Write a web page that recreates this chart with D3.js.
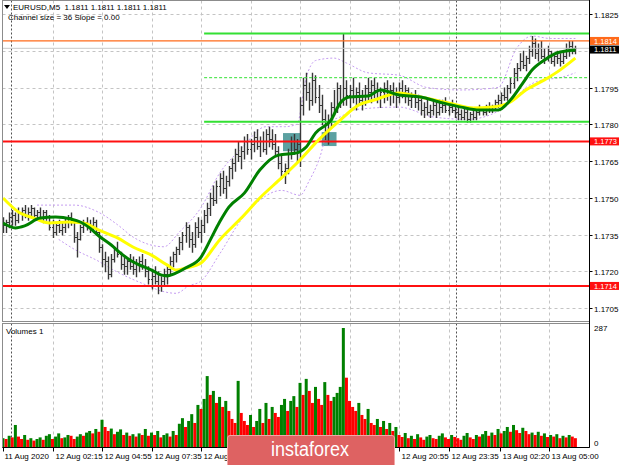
<!DOCTYPE html>
<html><head><meta charset="utf-8">
<script src="https://cdn.jsdelivr.net/npm/d3@7"></script>
<style>body{margin:0;background:#fff}svg{display:block}text{font-family:"Liberation Sans",Arial,sans-serif}</style>
</head><body><svg id="c" width="620" height="465"></svg>
<script>
// ---- data (10-minute bars, EURUSD) ----
const highs=[1.1742,1.1741,1.1744,1.1745,1.1744,1.1746,1.1746,1.1747,1.1746,1.1747,1.1746,1.1745,1.1746,1.1745,1.1745,
1.1743,1.1741,1.1740,1.1741,1.1740,1.1742,1.1743,1.1744,1.1741,1.1736,1.1739,1.1741,1.1742,1.1741,1.1742,1.1741,
1.1736,1.1731,1.1728,1.1726,1.1727,1.1730,1.1732,1.1728,1.1726,1.1725,1.1727,1.1726,1.1725,1.1726,1.1727,1.1725,
1.1722,1.1721,1.1722,1.1720,1.1718,1.1721,1.1723,1.1726,1.1728,1.1730,1.1734,1.1736,1.1740,1.1739,1.1736,1.1740,1.1742,1.1741,
1.1745,1.1748,1.1752,1.1755,1.1757,1.1760,1.1761,1.1759,1.1763,1.1766,1.1770,1.1773,1.1771,1.1775,
1.1776,1.1774,1.1777,1.1778,1.1775,1.1777,1.1778,1.1779,1.1778,1.1776,1.1771,1.1767,1.1764,1.1770,1.1775,1.1776,1.1774,
1.1791,1.1799,1.1801,1.1797,1.1801,1.1800,1.1796,1.1792,1.1786,1.1784,1.1789,1.1794,1.1797,1.1796,1.1817,
1.1798,1.1796,1.1799,1.1795,1.1797,1.1794,1.1796,1.1799,1.1798,1.1799,1.1797,1.1795,1.1797,1.1798,1.1796,1.1797,1.1795,
1.1797,1.1798,1.1796,1.1795,1.1793,1.1794,1.1792,1.1791,1.1789,1.1790,1.1788,1.1790,1.1789,1.1790,
1.1790,1.1791,1.1789,1.1790,1.1788,1.1787,1.1786,1.1787,1.1786,1.1785,1.1787,1.1786,1.1788,1.1787,1.1788,1.1789,1.1788,1.1790,1.1792,
1.1793,1.1795,1.1796,1.1799,1.1803,1.1805,1.1809,1.1810,1.1808,1.1812,1.1816,1.1815,1.1813,1.1814,1.1811,1.1812,1.1810,1.1809,1.1810,1.1809,1.1810,1.1813,1.1814,1.1814,1.1812];
const lows=[1.1736,1.1736,1.1738,1.1739,1.1739,1.1740,1.1741,1.1742,1.1741,1.1742,1.1742,1.1741,1.1741,1.1740,1.1741,
1.1737,1.1734,1.1735,1.1736,1.1735,1.1736,1.1738,1.1739,1.1732,1.1726,1.1733,1.1736,1.1737,1.1736,1.1737,1.1735,
1.1728,1.1722,1.1720,1.1717,1.1718,1.1724,1.1726,1.1721,1.1719,1.1719,1.1721,1.1719,1.1718,1.1720,1.1721,1.1718,
1.1715,1.1713,1.1715,1.1711,1.1712,1.1714,1.1715,1.1719,1.1722,1.1724,1.1727,1.1729,1.1732,1.1730,1.1728,1.1730,1.1734,1.1732,
1.1736,1.1740,1.1743,1.1747,1.1748,1.1751,1.1752,1.1750,1.1755,1.1758,1.1761,1.1765,1.1762,1.1766,
1.1768,1.1766,1.1769,1.1770,1.1767,1.1769,1.1768,1.1771,1.1770,1.1767,1.1762,1.1758,1.1756,1.1760,1.1766,1.1768,1.1765,
1.1763,1.1784,1.1790,1.1786,1.1788,1.1789,1.1785,1.1780,1.1774,1.1772,1.1779,1.1784,1.1785,1.1787,1.1788,
1.1788,1.1787,1.1789,1.1786,1.1788,1.1786,1.1788,1.1790,1.1789,1.1791,1.1789,1.1787,1.1789,1.1790,1.1788,1.1789,1.1787,
1.1789,1.1791,1.1789,1.1788,1.1787,1.1787,1.1786,1.1784,1.1783,1.1784,1.1783,1.1784,1.1783,1.1784,
1.1785,1.1785,1.1784,1.1785,1.1783,1.1782,1.1782,1.1782,1.1781,1.1781,1.1782,1.1782,1.1784,1.1784,1.1784,1.1785,1.1785,1.1786,1.1787,
1.1788,1.1790,1.1790,1.1793,1.1795,1.1798,1.1802,1.1803,1.1802,1.1805,1.1808,1.1807,1.1806,1.1807,1.1805,1.1806,1.1805,1.1804,1.1805,1.1804,1.1805,1.1807,1.1808,1.1809,1.1809];
const closes=[1.1739,1.1740,1.1742,1.1743,1.1741,1.1744,1.1745,1.1743,1.1744,1.1746,1.1743,1.1744,1.1742,1.1744,1.1742,
1.1738,1.1736,1.1739,1.1737,1.1738,1.1740,1.1742,1.1740,1.1734,1.1733,1.1738,1.1740,1.1738,1.1739,1.1740,1.1736,
1.1730,1.1725,1.1724,1.1719,1.1725,1.1729,1.1727,1.1723,1.1722,1.1724,1.1722,1.1721,1.1723,1.1724,1.1722,1.1720,
1.1717,1.1718,1.1716,1.1714,1.1716,1.1719,1.1721,1.1724,1.1727,1.1729,1.1732,1.1735,1.1738,1.1733,1.1731,1.1738,1.1736,1.1739,
1.1743,1.1746,1.1750,1.1749,1.1755,1.1758,1.1754,1.1757,1.1762,1.1764,1.1768,1.1767,1.1769,1.1773,
1.1770,1.1772,1.1775,1.1771,1.1773,1.1770,1.1776,1.1774,1.1772,1.1769,1.1764,1.1761,1.1762,1.1768,1.1773,1.1770,1.1772,
1.1788,1.1796,1.1793,1.1790,1.1798,1.1791,1.1788,1.1782,1.1777,1.1781,1.1787,1.1786,1.1795,1.1790,1.1795,
1.1792,1.1794,1.1791,1.1793,1.1790,1.1792,1.1795,1.1793,1.1796,1.1794,1.1791,1.1793,1.1795,1.1792,1.1794,1.1793,1.1791,
1.1795,1.1793,1.1794,1.1790,1.1791,1.1789,1.1790,1.1786,1.1787,1.1785,1.1786,1.1788,1.1785,1.1787,
1.1788,1.1786,1.1787,1.1786,1.1785,1.1784,1.1783,1.1785,1.1782,1.1784,1.1783,1.1785,1.1786,1.1785,1.1787,1.1786,1.1787,1.1789,1.1790,
1.1792,1.1791,1.1795,1.1797,1.1801,1.1803,1.1806,1.1804,1.1807,1.1810,1.1813,1.1809,1.1811,1.1808,1.1807,1.1810,1.1806,1.1808,1.1807,1.1806,1.1808,1.1811,1.1812,1.1810,1.1811];
const volumes=[12,10,18,14,45,16,10,20,8,12,6,10,14,8,18,22,10,16,24,12,14,20,18,10,16,
22,18,26,30,24,35,28,58,40,30,36,22,28,34,20,26,
18,22,16,24,20,35,18,26,20,30,14,20,24,16,30,20,
48,62,40,55,72,50,95,85,110,167,120,130,100,115,90,105,80,
60,50,155,75,55,
45,70,40,55,85,50,100,60,90,75,65,
95,110,80,105,117,90,150,
120,160,130,100,140,
110,95,152,120,105,115,125,140,
287,
163,105,90,80,100,70,60,85,50,45,60,40,55,35,50,30,40,
20,15,25,12,18,10,22,14,8,16,20,12,10,18,24,14,10,20,15,12,8,18,25,14,10,20,16,22,30,18,
26,20,35,24,30,40,28,45,32,25,38,30,22,26,20,28,18,24,15,20,16,22,12,18,14,20,16,12];
const fastMA=[[0,1.17397],[4,1.17377],[7,1.17385],[12,1.17417],[17,1.17421],[22,1.17413],[25,1.17401],[28,1.17377],[31,1.17344],[35,1.17307],[38,1.17274],[41,1.17246],[44,1.17226],[48,1.17205],[51,1.17185],[53,1.17181],[56,1.17193],[59,1.17213],[64,1.17258],[67,1.17328],[70,1.17401],[73,1.17462],[78,1.17519],[83,1.17613],[89,1.17674],[95,1.17683],[98,1.17707],[101,1.17764],[106,1.17817],[109,1.17887],[112,1.17911],[118,1.17915],[122,1.17940],[128,1.17919],[135,1.17911],[141,1.17891],[148,1.17870],[154,1.17858],[160,1.17858],[164,1.17899],[168,1.17968],[171,1.18021],[175,1.18062],[179,1.18091],[185,1.18103]];
const slowMA=[[0,1.17499],[5,1.17442],[10,1.17417],[15,1.17397],[21,1.17401],[26,1.17397],[31,1.17368],[37,1.17336],[42,1.17299],[48,1.17266],[53,1.17226],[56,1.17205],[59,1.17213],[64,1.17234],[70,1.17328],[77,1.17417],[83,1.17499],[90,1.17581],[96,1.17654],[102,1.17736],[109,1.17817],[115,1.17879],[120,1.17899],[128,1.17928],[135,1.17911],[144,1.17887],[152,1.17866],[158,1.17870],[164,1.17891],[169,1.17940],[175,1.17981],[180,1.18021],[185,1.18070]];
const upperBand=[[11,1.1747],[23,1.1747],[31,1.1744],[37,1.1739],[42,1.1734],[47,1.1731],[52,1.1730],[57,1.1736],[64,1.1746],[70,1.1760],[77,1.1770],[85,1.1779],[91,1.1779],[95,1.1780],[98,1.1799],[101,1.1806],[107,1.1807],[111,1.1805],[118,1.1801],[128,1.1800],[137,1.1795],[148,1.1794],[160,1.1795],[166,1.1811],[171,1.1816],[177,1.1815],[185,1.1815]];
const lowerBand=[[18,1.1733],[23,1.1729],[31,1.1724],[35,1.1721],[47,1.1714],[51,1.1712],[56,1.1711],[60,1.1714],[64,1.1716],[70,1.1727],[77,1.1741],[83,1.1749],[90,1.1753],[96,1.1751],[99,1.1757],[102,1.1765],[106,1.1781],[109,1.1783],[114,1.1786],[128,1.1787],[139,1.1783],[150,1.1782],[161,1.1786],[165,1.1790],[169,1.1795],[174,1.1798],[180,1.1799],[185,1.1801]];
const priceTicks=[1.1825,1.1810,1.1795,1.1780,1.1765,1.1750,1.1735,1.1720,1.1705];
const timeTickIdx=[0,16,32,48,64,80,96,112,128,144,160.5,176.5];
// labels under the instaforex badge are covered in the source and left blank
const timeTickLabels=["11 Aug 2020","12 Aug 02:15","12 Aug 04:55","12 Aug 07:35","12 Aug 10:15","","","","12 Aug 20:55","12 Aug 23:35","13 Aug 02:20","13 Aug 05:00"];
const daySeparators=[2.5,146.5];
const fullLevels=[{p:1.1814,c:"#ff6a1a",w:1.3},{p:1.1811,c:"#c8c8c8",w:1},{p:1.1773,c:"#ff1010",w:2},{p:1.1714,c:"#ff1010",w:2}];
const partLevels=[{p:1.1817,from:65,c:"#33e033",w:2,dash:null},{p:1.1799,from:65,c:"#33e033",w:1,dash:"3,2"},{p:1.1781,from:65,c:"#33e033",w:2,dash:null}];
const zones=[{x0:90.5,x1:96.2,p0:1.17764,p1:1.17690},{x0:103,x1:107.8,p0:1.17768,p1:1.17711}];
const priceTags=[{p:1.1814,t:"1.1814",bg:"#ff6a1a"},{p:1.1811,t:"1.1811",bg:"#000000"},{p:1.1773,t:"1.1773",bg:"#ff1010"},{p:1.1714,t:"1.1714",bg:"#ff1010"}];
const headerText="EURUSD,M5  1.1811 1.1811 1.1811 1.1811";
const subText="Channel size = 36 Slope = 0.00";

// ---- layout ----
const L=2.5,R=589.5,mainTop=0.5,mainBot=321.5,volTop=323.5,volBot=447.5;
const svg=d3.select("#c");
const x=d3.scaleLinear().domain([0,190]).range([3,3+190*3.094]);
const y=d3.scaleLinear().domain([1.1705,1.1825]).range([308,14]);
const yv=d3.scaleLinear().domain([0,287]).range([443,328]);

const defs=svg.append("defs");
defs.append("clipPath").attr("id","mc").append("rect").attr("x",L).attr("y",mainTop).attr("width",R-L).attr("height",mainBot-mainTop);
defs.append("clipPath").attr("id","vc").append("rect").attr("x",L).attr("y",volTop).attr("width",R-L).attr("height",volBot-volTop);

const g=svg.append("g").attr("clip-path","url(#mc)");
const gv=svg.append("g").attr("clip-path","url(#vc)");

// grid
priceTicks.forEach(p=>{g.append("line").attr("x1",L).attr("x2",R).attr("y1",Math.round(y(p))+0.5).attr("y2",Math.round(y(p))+0.5).attr("stroke","#c4c4c4").attr("stroke-dasharray","3,3");});
timeTickIdx.slice(1).forEach(t=>{
  const xx=Math.round(x(t))+0.5;
  g.append("line").attr("x1",xx).attr("x2",xx).attr("y1",mainTop).attr("y2",mainBot).attr("stroke","#c4c4c4").attr("stroke-dasharray","3,3");
  gv.append("line").attr("x1",xx).attr("x2",xx).attr("y1",volTop).attr("y2",volBot).attr("stroke","#c4c4c4").attr("stroke-dasharray","3,3");
});
daySeparators.forEach(t=>{
  const xx=Math.round(x(t))+0.5;
  g.append("line").attr("x1",xx).attr("x2",xx).attr("y1",mainTop).attr("y2",mainBot).attr("stroke","#505050").attr("stroke-dasharray","2,2");
  gv.append("line").attr("x1",xx).attr("x2",xx).attr("y1",volTop).attr("y2",volBot).attr("stroke","#505050").attr("stroke-dasharray","2,2");
});

// zones
zones.forEach(z=>{g.append("rect").attr("x",x(z.x0)).attr("width",x(z.x1)-x(z.x0)).attr("y",y(z.p0)).attr("height",y(z.p1)-y(z.p0)).attr("fill","#3f9090").attr("opacity",0.85);});

// bands
const lineGen=d3.line().x(d=>x(d[0])).y(d=>y(d[1])).curve(d3.curveMonotoneX);
[upperBand,lowerBand].forEach(b=>g.append("path").attr("d",lineGen(b)).attr("fill","none").attr("stroke","#c49cf0").attr("stroke-width",1).attr("stroke-dasharray","2,2"));

// bars
const bars=g.append("g").attr("stroke","#383838");
highs.forEach((h,i)=>{
  const xx=Math.round(x(i))+0.5;
  const o=i>0?closes[i-1]:closes[i];
  bars.append("line").attr("x1",xx).attr("x2",xx).attr("y1",y(h)).attr("y2",y(lows[i])+1).attr("stroke-width",1.4);
  bars.append("line").attr("x1",xx-1.5).attr("x2",xx).attr("y1",Math.round(y(o))+0.5).attr("y2",Math.round(y(o))+0.5).attr("stroke-width",1);
  bars.append("line").attr("x1",xx).attr("x2",xx+1.5).attr("y1",Math.round(y(closes[i]))+0.5).attr("y2",Math.round(y(closes[i]))+0.5).attr("stroke-width",1);
});

// level lines
fullLevels.forEach(l=>g.append("line").attr("x1",L).attr("x2",R).attr("y1",y(l.p)).attr("y2",y(l.p)).attr("stroke",l.c).attr("stroke-width",l.w));
partLevels.forEach(l=>{const ln=g.append("line").attr("x1",x(l.from)).attr("x2",R).attr("y1",y(l.p)).attr("y2",y(l.p)).attr("stroke",l.c).attr("stroke-width",l.w);if(l.dash)ln.attr("stroke-dasharray",l.dash);});

// MAs
g.append("path").attr("d",lineGen(slowMA)).attr("fill","none").attr("stroke","#ffff00").attr("stroke-width",3);
g.append("path").attr("d",lineGen(fastMA)).attr("fill","none").attr("stroke","#008000").attr("stroke-width",3);

// volumes
volumes.forEach((v,i)=>{
  const up=i===0||v>volumes[i-1];
  gv.append("rect").attr("x",x(i)-1.5).attr("width",3.0).attr("y",yv(v)).attr("height",yv(0)-yv(v)+4).attr("fill",up?"#008000":"#ff0000");
});

// frames
svg.append("rect").attr("x",L).attr("y",mainTop).attr("width",R-L).attr("height",mainBot-mainTop).attr("fill","none").attr("stroke","#8c8c8c");
svg.append("rect").attr("x",L).attr("y",volTop).attr("width",R-L).attr("height",volBot-volTop).attr("fill","none").attr("stroke","#8c8c8c");
svg.append("line").attr("x1",R).attr("x2",R).attr("y1",0).attr("y2",volBot).attr("stroke","#000");
svg.append("line").attr("x1",L).attr("x2",R).attr("y1",volBot).attr("y2",volBot).attr("stroke","#000");

// price tags, dodged downward so they do not collide (as the terminal does)
const TAG_H=8.6;
const tagPos=[];
priceTags.map((t,i)=>({i,c:y(t.p)})).sort((a,b)=>a.c-b.c).forEach((d,k,arr)=>{
  if(k>0){const prev=tagPos[arr[k-1].i]; if(d.c-prev<TAG_H) d.c=prev+TAG_H;}
  tagPos[d.i]=d.c;
});

// price axis
priceTicks.forEach(p=>{
  const yy=Math.round(y(p))+0.5;
  svg.append("line").attr("x1",R).attr("x2",R+3).attr("y1",yy).attr("y2",yy).attr("stroke","#000");
  if(tagPos.some(ty=>Math.abs(ty-yy)<9)) return; // covered by a price tag, as in the source
  svg.append("text").attr("x",594).attr("y",yy+3).attr("font-size",8).attr("fill","#000").text(p.toFixed(4));
});
priceTags.forEach((t,i)=>{
  const yy=tagPos[i];
  svg.append("rect").attr("x",590).attr("y",yy-4).attr("width",29).attr("height",8).attr("fill",t.bg);
  svg.append("text").attr("x",594).attr("y",yy+2.6).attr("font-size",7.5).attr("fill","#fff").text(t.t);
});
svg.append("text").attr("x",594).attr("y",yv(287)+3).attr("font-size",8).text("287");
svg.append("text").attr("x",594).attr("y",yv(0)+3).attr("font-size",8).text("0");

// time axis
timeTickIdx.forEach((t,i)=>{
  const xx=Math.round(x(t))+0.5;
  svg.append("line").attr("x1",xx).attr("x2",xx).attr("y1",volBot).attr("y2",volBot+4).attr("stroke","#000");
  if(timeTickLabels[i]) svg.append("text").attr("x",xx+(i===0?1:2)).attr("y",459).attr("font-size",8).attr("fill","#000").text(timeTickLabels[i]);
});

// header
svg.append("path").attr("d","M4,5 L10,5 L7,9 Z").attr("fill","#000");
svg.append("text").attr("x",13).attr("y",10).attr("font-size",8).attr("fill","#000").attr("xml:space","preserve").text(headerText);
svg.append("text").attr("x",8).attr("y",20).attr("font-size",8).attr("fill","#000").text(subText);
svg.append("text").attr("x",6).attr("y",334).attr("font-size",8).attr("fill","#000").text("Volumes 1");

// logo
const lg=svg.append("g");
lg.append("path").attr("d","M227.5,467 L227.5,438 Q227.5,435.5 230,435.5 L392,435.5 Q394.5,435.5 394.5,438 L394.5,467 Z").attr("fill","#de6262").attr("stroke","#f2a6a6");
lg.append("text").attr("x",310).attr("y",456).attr("text-anchor","middle").attr("font-size",20).attr("fill","#fff").attr("font-family","Lato,'Open Sans',sans-serif").attr("textLength",78).attr("lengthAdjust","spacingAndGlyphs").text("instaforex");
</script></body></html>
